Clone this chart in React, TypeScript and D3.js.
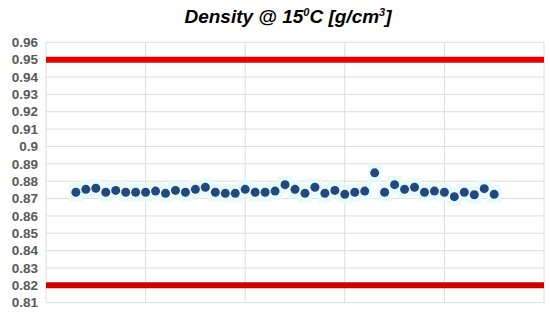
import React from "react";
import * as d3 from "d3";

const xValues = [3,4,5,6,7,8,9,10,11,12,13,14,15,16,17,18,19,20,21,22,23,24,25,26,27,28,29,30,31,32,33,34,35,36,37,38,39,40,41,42,43,44,45];
const density = [0.8736,0.8753,0.8759,0.8736,0.8747,0.8736,0.8736,0.8736,0.8743,0.8730,0.8747,0.8736,0.8753,0.8765,0.8736,0.8730,0.8730,0.8753,0.8736,0.8736,0.8743,0.8780,0.8753,0.8730,0.8765,0.8730,0.8747,0.8724,0.8736,0.8743,0.8848,0.8736,0.8780,0.8753,0.8765,0.8736,0.8743,0.8736,0.8711,0.8736,0.8722,0.8757,0.8724];
const limits = [0.95, 0.82];
const yTicks = [0.96,0.95,0.94,0.93,0.92,0.91,0.9,0.89,0.88,0.87,0.86,0.85,0.84,0.83,0.82,0.81];
const xTicks = [0,10,20,30,40,50];

export default function App() {
  const W = 550, H = 316;
  const x = d3.scaleLinear().domain([0, 50]).range([46, 544]);
  const y = d3.scaleLinear().domain([0.81, 0.96]).range([302.7, 42.3]);
  const fmt = (v: number) => String(+v.toFixed(2));
  return (
    <svg width={W} height={H} style={{ position: "absolute", left: 0, top: 0, background: "#fff" }}
      fontFamily="'Liberation Sans', Arial, sans-serif">
      <text x={288} y={23} textAnchor="middle" fontSize={19} fontWeight="bold" fontStyle="italic" fill="#000">
        Density @ 15<tspan fontSize={11} dy={-7}>0</tspan><tspan dy={7}>C [g/cm</tspan><tspan fontSize={11} dy={-7}>3</tspan><tspan dy={7}>]</tspan>
      </text>
      {yTicks.map((t) => (
        <line key={"h" + t} x1={x(0)} x2={x(50)} y1={y(t)} y2={y(t)} stroke="#dcdcdc" strokeWidth={1} />
      ))}
      {xTicks.map((t) => (
        <line key={"v" + t} x1={x(t)} x2={x(t)} y1={y(0.96)} y2={y(0.81)} stroke="#dcdcdc" strokeWidth={1} />
      ))}
      {yTicks.map((t) => (
        <text key={"l" + t} x={38} y={y(t)} dy="0.35em" textAnchor="end" fontSize={13.5} fontWeight="bold" fill="#595959">
          {fmt(t)}
        </text>
      ))}
      {limits.map((v, i) => (
        <line key={"r" + v} x1={x(0)} x2={x(50)} y1={y(v)} y2={y(v)} stroke={i === 0 ? "#e60000" : "#d00000"} strokeWidth={6} />
      ))}
      <g>
        {xValues.map((xv, i) => (
          <rect key={"g" + i} x={x(xv) - 7} y={y(density[i]) - 9} width={14} height={18} fill="#e8fbfb" />
        ))}
      </g>
      <g>
        {xValues.map((xv, i) => (
          <circle key={"p" + i} cx={x(xv)} cy={y(density[i])} r={4.5} fill="#23487f" />
        ))}
      </g>
    </svg>
  );
}
